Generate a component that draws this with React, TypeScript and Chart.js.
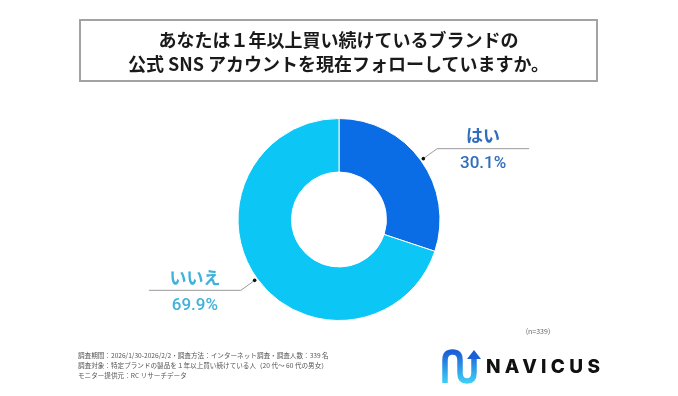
import React, { useEffect, useRef } from 'react';
import { Chart, registerables } from 'chart.js';

Chart.register(...registerables);

const titleLines = ['あなたは１年以上買い続けているブランドの', '公式 SNS アカウントを現在フォローしていますか。'];
const categories = ['はい', 'いいえ'];
const values = [30.1, 69.9];
const sliceColors = ['#0a6de6', '#0cc6f6'];
const labelColors = ['#2f6dbd', '#3fb2da'];
const footerLines = [
  '調査期間：2026/1/30-2026/2/2・調査方法：インターネット調査・調査人数：339 名',
  '調査対象：特定ブランドの製品を１年以上買い続けている人（20 代～ 60 代の男女）',
  'モニター提供元：RC リサーチデータ',
];
const sampleNote = '(n=339)';
const brand = 'NAVICUS';

const CJK = '"Noto Sans CJK JP", "Noto Sans", sans-serif';

const leaderPlugin = {
  id: 'leaderLabels',
  afterDatasetsDraw(chart: any) {
    const ctx = chart.ctx;
    const meta = chart.getDatasetMeta(0);
    meta.data.forEach((arc: any, i: number) => {
      const { x, y, startAngle, endAngle, outerRadius } = arc.getProps(['x', 'y', 'startAngle', 'endAngle', 'outerRadius'], true);
      const mid = (startAngle + endAngle) / 2;
      const c = Math.cos(mid);
      const s = Math.sin(mid);
      const dx = x + c * (outerRadius + 3);
      const dy = y + s * (outerRadius + 3);
      const ex = x + c * (outerRadius + 20);
      const ey = y + s * (outerRadius + 20);
      const dir = c >= 0 ? 1 : -1;
      const hx = ex + dir * 92;
      ctx.save();
      ctx.strokeStyle = '#9a9a9a';
      ctx.lineWidth = 1;
      ctx.beginPath();
      ctx.moveTo(dx, dy);
      ctx.lineTo(ex, ey);
      ctx.lineTo(hx, ey);
      ctx.stroke();
      ctx.fillStyle = '#111';
      ctx.beginPath();
      ctx.arc(dx, dy, 1.8, 0, Math.PI * 2);
      ctx.fill();
      const cx = (ex + hx) / 2;
      ctx.fillStyle = labelColors[i];
      ctx.textAlign = 'center';
      ctx.textBaseline = 'middle';
      ctx.font = 'bold 17px ' + CJK;
      ctx.fillText(categories[i], cx, ey - 13);
      ctx.font = '500 17px Roboto, "Noto Sans", sans-serif';
      ctx.fillText(values[i].toFixed(1) + '%', cx, ey + 15);
      ctx.restore();
    });
  },
};

export default function App() {
  const ref = useRef<HTMLCanvasElement | null>(null);
  useEffect(() => {
    if (!ref.current) return;
    const chart = new Chart(ref.current, {
      type: 'doughnut',
      data: {
        labels: categories,
        datasets: [
          {
            data: values,
            backgroundColor: sliceColors,
            borderColor: '#ffffff',
            borderWidth: 1,
            hoverOffset: 0,
          },
        ],
      },
      options: {
        responsive: false,
        animation: false,
        radius: 101,
        cutout: '47%',
        layout: { padding: { left: 238, right: 238, top: 119, bottom: 76 } },
        plugins: { legend: { display: false }, tooltip: { enabled: false } },
        events: [],
      } as any,
      plugins: [leaderPlugin],
    });
    return () => chart.destroy();
  }, []);

  return (
    <div style={{ position: 'fixed', left: 0, top: 0, width: 678, height: 396, background: '#fff', overflow: 'hidden' }}>
      <canvas ref={ref} width={678} height={396} style={{ position: 'absolute', left: 0, top: 0, width: 678, height: 396 }} />
      <div
        style={{
          position: 'absolute',
          left: 79,
          top: 19,
          width: 519,
          height: 63,
          boxSizing: 'border-box',
          border: '2px solid #a3a3a3',
          fontFamily: CJK,
          fontWeight: 700,
          fontSize: 18,
          color: '#1a1a1a',
          textAlign: 'center',
          lineHeight: '24px',
          paddingTop: 6,
        }}
      >
        {titleLines.map((t, i) => (
          <div key={i}>{t}</div>
        ))}
      </div>
      <div
        style={{
          position: 'absolute',
          left: 508,
          top: 326,
          width: 60,
          textAlign: 'center',
          fontFamily: CJK,
          fontSize: 7,
          color: '#666',
        }}
      >
        {sampleNote}
      </div>
      <div style={{ position: 'absolute', left: 78, top: 350, fontFamily: CJK, fontSize: 6.6, color: '#555', lineHeight: '10px' }}>
        {footerLines.map((t, i) => (
          <div key={i} style={{ whiteSpace: 'nowrap' }}>{t}</div>
        ))}
      </div>
      <svg style={{ position: 'absolute', left: 438, top: 345 }} width={46} height={42}>
        <defs>
          <linearGradient id="lg" x1="0" y1="0" x2="0" y2="1">
            <stop offset="0" stopColor="#1b5fd6" />
            <stop offset="1" stopColor="#3fd0f5" />
          </linearGradient>
        </defs>
        <path
          d="M 7 38 L 7 15 Q 7 7 14.5 7 Q 22 7 22 15 L 22 28 Q 22 36 29 36 Q 36 36 36 28 L 36 13"
          fill="none"
          stroke="url(#lg)"
          strokeWidth={5.5}
        />
        <path d="M 29 14 L 43 14 L 36 5 Z" fill="#1b5fd6" />
      </svg>
      <div
        style={{
          position: 'absolute',
          left: 486,
          top: 355,
          fontFamily: 'Inter, Lato, sans-serif',
          fontWeight: 800,
          fontSize: 19,
          letterSpacing: 4.3,
          color: '#111',
          lineHeight: '24px',
        }}
      >
        {brand}
      </div>
    </div>
  );
}
